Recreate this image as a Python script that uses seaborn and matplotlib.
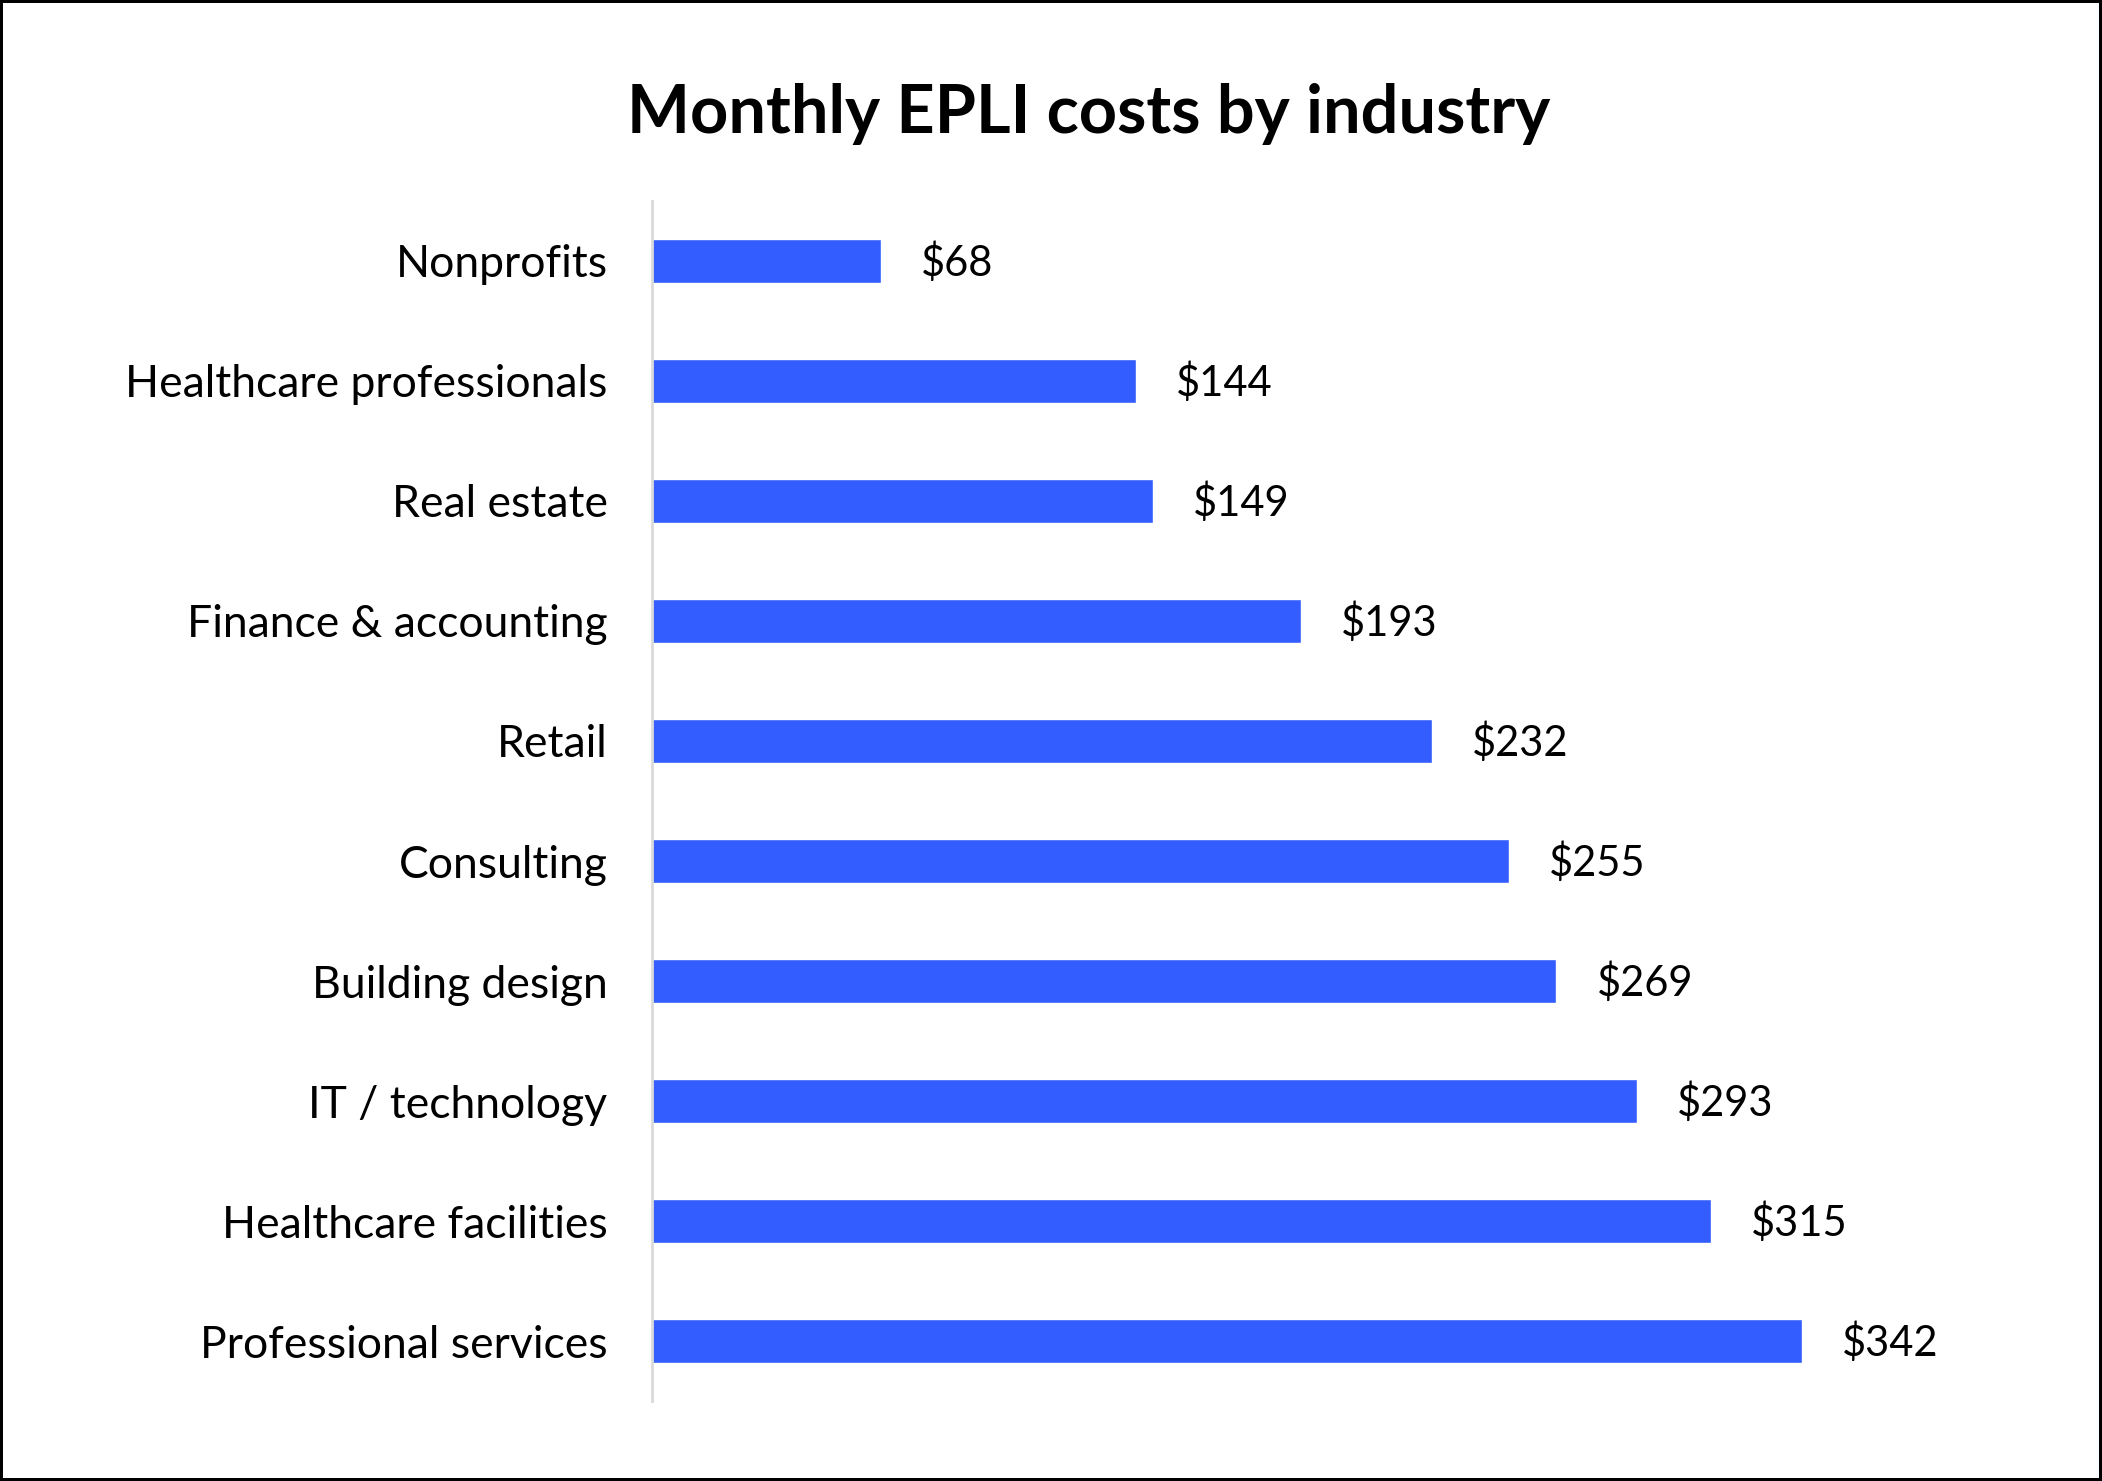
import matplotlib
matplotlib.use("Agg")
import matplotlib.pyplot as plt
import seaborn as sns
import pandas as pd

industries = [
    "Nonprofits",
    "Healthcare professionals",
    "Real estate",
    "Finance & accounting",
    "Retail",
    "Consulting",
    "Building design",
    "IT / technology",
    "Healthcare facilities",
    "Professional services",
]
monthly_cost = [68, 144, 149, 193, 232, 255, 269, 293, 315, 342]

bar_color = "#335dff"

sns.set_theme(style="white")
plt.rcParams["font.family"] = ["Lato", "DejaVu Sans"]

df = pd.DataFrame({"industry": industries, "cost": monthly_cost})

fig = plt.figure(figsize=(21.02, 14.81), dpi=100)
fig.patch.set_facecolor("white")
fig.patch.set_edgecolor("black")
fig.patch.set_linewidth(3)

ax = fig.add_axes([0.3102, 0.054, 0.622, 0.8103])
sns.barplot(data=df, x="cost", y="industry", color=bar_color, width=0.36,
            saturation=1, ax=ax)

# value labels to the right of each bar
for bar, val in zip(ax.patches, monthly_cost):
    ax.annotate(f"${val}", (bar.get_width(), bar.get_y() + bar.get_height() / 2),
                xytext=(29, -1), textcoords="offset points",
                ha="left", va="center", fontsize=30, color="black")

ax.set_xlim(0, 389)
ax.set_ylim(9.5, -0.5)
ax.set_xlabel("")
ax.set_ylabel("")
ax.set_xticks([])
ax.tick_params(axis="y", length=0, pad=32, labelsize=32, labelcolor="black")
for side in ["top", "right", "bottom"]:
    ax.spines[side].set_visible(False)
ax.spines["left"].set_color("#d9d9d9")
ax.spines["left"].set_linewidth(2)

fig.text(0.518, 0.923, "Monthly EPLI costs by industry", ha="center", va="center",
         fontsize=48, fontweight="bold", color="black")

fig.savefig("out.png", dpi=100, facecolor=fig.get_facecolor(),
            edgecolor=fig.get_edgecolor())
